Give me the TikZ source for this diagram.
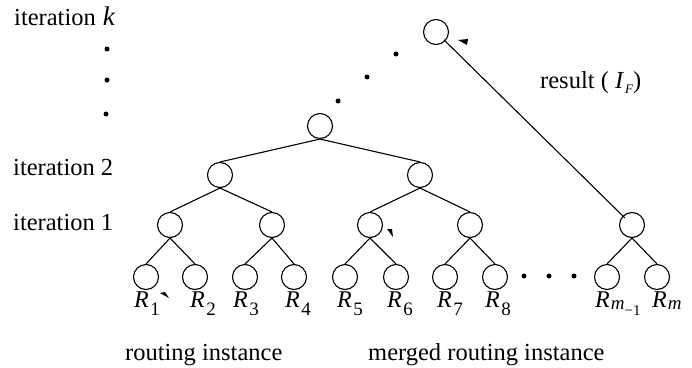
\documentclass[tikz,border=0pt]{standalone}
\usepackage{fontspec}
\setmainfont{Liberation Serif}
\newcommand{\Rlab}[1]{\textit{R}\kern1.5pt\raisebox{-8pt}{\fontsize{19}{19}\selectfont #1}}
\begin{document}
\begin{tikzpicture}[x=1pt,y=-1pt,
  nd/.style={circle,draw,line width=1.1pt,minimum size=25pt,inner sep=0pt},
  ln/.style={line width=1.1pt},
  lbl/.style={font=\fontsize{24.5}{26}\selectfont,inner sep=0pt,anchor=base west},
  rl/.style={font=\fontsize{24}{24}\selectfont,inner sep=0pt,anchor=base west},
  dotc/.style={circle,fill,minimum size=5pt,inner sep=0pt}]
\useasboundingbox (0,0) rectangle (692,367);
% nodes
\node[nd] (top) at (436,32) {};
\node[nd] (a) at (320,126) {};
\node[nd] (b1) at (220,175) {};
\node[nd] (b2) at (420,175) {};
\node[nd] (c1) at (170,225) {};
\node[nd] (c2) at (272,225) {};
\node[nd] (c3) at (370,225) {};
\node[nd] (c4) at (470,225) {};
\node[nd] (c5) at (632,225) {};
\node[nd] (l1) at (146,277) {};
\node[nd] (l2) at (195,277) {};
\node[nd] (l3) at (245,277) {};
\node[nd] (l4) at (294,277) {};
\node[nd] (l5) at (345,277) {};
\node[nd] (l6) at (396,277) {};
\node[nd] (l7) at (445,277) {};
\node[nd] (l8) at (495,277) {};
\node[nd] (l9) at (607,277) {};
\node[nd] (l10) at (657,277) {};
% edges
\draw[ln] (a.south) -- (b1.north);
\draw[ln] (a.south) -- (b2.north);
\draw[ln] (b1.south) -- (c1.north);
\draw[ln] (b1.south) -- (c2.north);
\draw[ln] (b2.south) -- (c3.north);
\draw[ln] (b2.south) -- (c4.north);
\foreach \p/\u/\v in {c1/l1/l2,c2/l3/l4,c3/l5/l6,c4/l7/l8,c5/l9/l10}{
  \draw[ln] (\p.south) -- (\u.north);
  \draw[ln] (\p.south) -- (\v.north);
}
\draw[ln,shorten <=11pt,shorten >=10pt] (top.center) -- (c5.center);
% dots
\node[dotc] (d1) at (338,101) {};
\node[dotc] (d2) at (367,77) {};
\node[dotc] (d3) at (396,54) {};
\node[dotc] (d4) at (107,49) {};
\node[dotc] (d5) at (107,80) {};
\node[dotc] (d6) at (106,114) {};
\node[dotc] (d7) at (524,276) {};
\node[dotc] (d8) at (549,276) {};
\node[dotc] (d9) at (574,276) {};
% small arrowheads
\fill (458,40) -- (468,39) -- (467,45) -- cycle;
\fill (160,293) -- (169,298) -- (165,292) -- cycle;
\fill (387,229) -- (393,237) -- (392,229) -- cycle;
% labels
\node[lbl] (tk) at (14,25) {iteration\kern7pt{\fontsize{27}{27}\selectfont\textit{k}}};
\node[lbl] (t2) at (13,175) {iteration 2};
\node[lbl] (t1) at (13,230) {iteration 1};
\node[lbl] (res) at (540,88) {result ( \textit{I}\kern1pt\raisebox{-5pt}{\fontsize{13}{13}\selectfont\textit{F}})};
\node[lbl] (ri) at (125,360) {routing instance};
\node[lbl] (mri) at (368,360) {merged routing instance};
\node[rl] (r1) at (134,307) {\Rlab{1}};
\node[rl] (r2) at (190,307) {\Rlab{2}};
\node[rl] (r3) at (233,307) {\Rlab{3}};
\node[rl] (r4) at (285,307) {\Rlab{4}};
\node[rl] (r5) at (337,307) {\Rlab{5}};
\node[rl] (r6) at (387,307) {\Rlab{6}};
\node[rl] (r7) at (437,307) {\Rlab{7}};
\node[rl] (r8) at (485,307) {\Rlab{8}};
\node[rl] (r9) at (595,307) {\textit{R}\kern1pt\raisebox{-2pt}{\fontsize{19}{19}\selectfont\textit{m}\raisebox{-6pt}{\fontsize{15}{15}\selectfont −1}}};
\node[rl] (r10) at (652,307) {\textit{R}\kern1pt\raisebox{-2pt}{\fontsize{19}{19}\selectfont\textit{m}}};
\end{tikzpicture}
\end{document}
